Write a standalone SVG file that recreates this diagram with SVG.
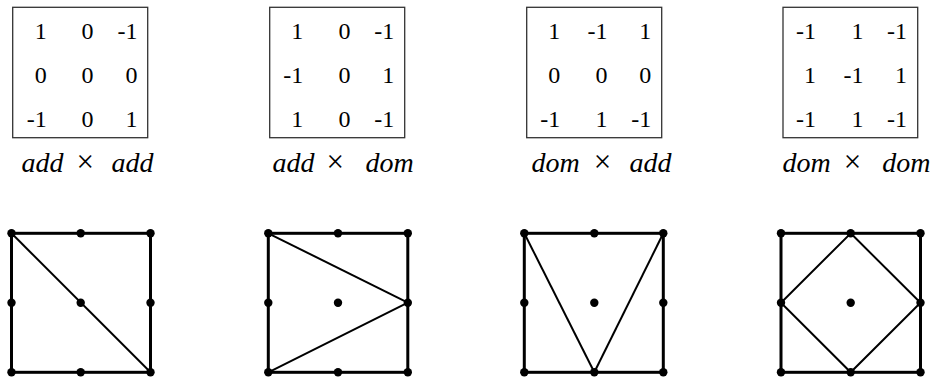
<svg xmlns="http://www.w3.org/2000/svg" width="937" height="378" viewBox="0 0 937 378">
<style>
.box{fill:none;stroke:#333;stroke-width:1.3}
.sq{fill:none;stroke:#000;stroke-width:3}
.e{stroke:#000;stroke-width:2;fill:none}
.d{fill:#000}
</style>
<g id="matrix-add-add" font-family="Liberation Serif, serif" fill="#000">
<rect class="box" x="12.7" y="7.3" width="135" height="130.4"/>
<g font-size="24" text-anchor="end">
<text x="46.7" y="38.5">1</text><text x="93.5" y="38.5">0</text><text x="137.5" y="38.5">-1</text>
<text x="46.7" y="82.7">0</text><text x="93.5" y="82.7">0</text><text x="137.5" y="82.7">0</text>
<text x="46.7" y="126.5">-1</text><text x="93.5" y="126.5">0</text><text x="137.5" y="126.5">1</text>
</g>
<g font-size="28" text-anchor="middle"><text x="42.5" y="171.5" font-style="italic">add</text><text x="85.3" y="171.5" font-size="31">×</text><text x="132.5" y="171.5" font-style="italic">add</text></g>
</g>
<g id="matrix-add-dom" font-family="Liberation Serif, serif" fill="#000">
<rect class="box" x="269.7" y="7.3" width="135" height="130.4"/>
<g font-size="24" text-anchor="end">
<text x="303.2" y="38.5">1</text><text x="350.4" y="38.5">0</text><text x="394.2" y="38.5">-1</text>
<text x="303.2" y="82.7">-1</text><text x="350.4" y="82.7">0</text><text x="394.2" y="82.7">1</text>
<text x="303.2" y="126.5">1</text><text x="350.4" y="126.5">0</text><text x="394.2" y="126.5">-1</text>
</g>
<g font-size="28" text-anchor="middle"><text x="293.5" y="171.5" font-style="italic">add</text><text x="335.3" y="171.5" font-size="31">×</text><text x="389.5" y="171.5" font-style="italic">dom</text></g>
</g>
<g id="matrix-dom-add" font-family="Liberation Serif, serif" fill="#000">
<rect class="box" x="526.7" y="7.3" width="135" height="130.4"/>
<g font-size="24" text-anchor="end">
<text x="560.2" y="38.5">1</text><text x="607.4" y="38.5">-1</text><text x="651.2" y="38.5">1</text>
<text x="560.2" y="82.7">0</text><text x="607.4" y="82.7">0</text><text x="651.2" y="82.7">0</text>
<text x="560.2" y="126.5">-1</text><text x="607.4" y="126.5">1</text><text x="651.2" y="126.5">-1</text>
</g>
<g font-size="28" text-anchor="middle"><text x="555.5" y="171.5" font-style="italic">dom</text><text x="602.5" y="171.5" font-size="31">×</text><text x="650.5" y="171.5" font-style="italic">add</text></g>
</g>
<g id="matrix-dom-dom" font-family="Liberation Serif, serif" fill="#000">
<rect class="box" x="783" y="7.3" width="134.7" height="130.4"/>
<g font-size="24" text-anchor="end">
<text x="816" y="38.5">-1</text><text x="863.5" y="38.5">1</text><text x="907" y="38.5">-1</text>
<text x="816" y="82.7">1</text><text x="863.5" y="82.7">-1</text><text x="907" y="82.7">1</text>
<text x="816" y="126.5">-1</text><text x="863.5" y="126.5">1</text><text x="907" y="126.5">-1</text>
</g>
<g font-size="28" text-anchor="middle"><text x="806.7" y="171.5" font-style="italic">dom</text><text x="852.5" y="171.5" font-size="31">×</text><text x="906.3" y="171.5" font-style="italic">dom</text></g>
</g>
<g id="connectors">
<rect class="sq" x="11.5" y="233.3" width="139" height="139"/>
<line class="e" x1="11.5" y1="233.3" x2="150.5" y2="372.3"/>
<rect class="sq" x="268.3" y="233.3" width="139.5" height="139"/>
<line class="e" x1="268.3" y1="233.3" x2="407.8" y2="302.7"/>
<line class="e" x1="268.3" y1="372.3" x2="407.8" y2="302.7"/>
<rect class="sq" x="524.3" y="233.3" width="139" height="139"/>
<line class="e" x1="524.3" y1="233.3" x2="594.3" y2="372.3"/>
<line class="e" x1="663.3" y1="233.3" x2="594.3" y2="372.3"/>
<rect class="sq" x="781" y="233.3" width="139.5" height="139"/>
<polygon class="e" points="850.7,233.3 920.5,302.7 850.7,372.3 781,302.7"/>
</g>
<g id="graph-add-add">
<circle class="d" cx="11.5" cy="233.3" r="4.2"/><circle class="d" cx="80.7" cy="233.3" r="4.2"/><circle class="d" cx="150.5" cy="233.3" r="4.2"/>
<circle class="d" cx="11.5" cy="302.7" r="4.2"/><circle class="d" cx="80.7" cy="302.7" r="4.2"/><circle class="d" cx="150.5" cy="302.7" r="4.2"/>
<circle class="d" cx="11.5" cy="372.3" r="4.2"/><circle class="d" cx="80.7" cy="372.3" r="4.2"/><circle class="d" cx="150.5" cy="372.3" r="4.2"/>
</g>
<g id="graph-add-dom">
<circle class="d" cx="268.3" cy="233.3" r="4.2"/><circle class="d" cx="338" cy="233.3" r="4.2"/><circle class="d" cx="407.8" cy="233.3" r="4.2"/>
<circle class="d" cx="268.3" cy="302.7" r="4.2"/><circle class="d" cx="338" cy="302.7" r="4.2"/><circle class="d" cx="407.8" cy="302.7" r="4.2"/>
<circle class="d" cx="268.3" cy="372.3" r="4.2"/><circle class="d" cx="338" cy="372.3" r="4.2"/><circle class="d" cx="407.8" cy="372.3" r="4.2"/>
</g>
<g id="graph-dom-add">
<circle class="d" cx="524.3" cy="233.3" r="4.2"/><circle class="d" cx="594.3" cy="233.3" r="4.2"/><circle class="d" cx="663.3" cy="233.3" r="4.2"/>
<circle class="d" cx="524.3" cy="302.7" r="4.2"/><circle class="d" cx="594.3" cy="302.7" r="4.2"/><circle class="d" cx="663.3" cy="302.7" r="4.2"/>
<circle class="d" cx="524.3" cy="372.3" r="4.2"/><circle class="d" cx="594.3" cy="372.3" r="4.2"/><circle class="d" cx="663.3" cy="372.3" r="4.2"/>
</g>
<g id="graph-dom-dom">
<circle class="d" cx="781" cy="233.3" r="4.2"/><circle class="d" cx="850.7" cy="233.3" r="4.2"/><circle class="d" cx="920.5" cy="233.3" r="4.2"/>
<circle class="d" cx="781" cy="302.7" r="4.2"/><circle class="d" cx="850.7" cy="302.7" r="4.2"/><circle class="d" cx="920.5" cy="302.7" r="4.2"/>
<circle class="d" cx="781" cy="372.3" r="4.2"/><circle class="d" cx="850.7" cy="372.3" r="4.2"/><circle class="d" cx="920.5" cy="372.3" r="4.2"/>
</g>
</svg>
